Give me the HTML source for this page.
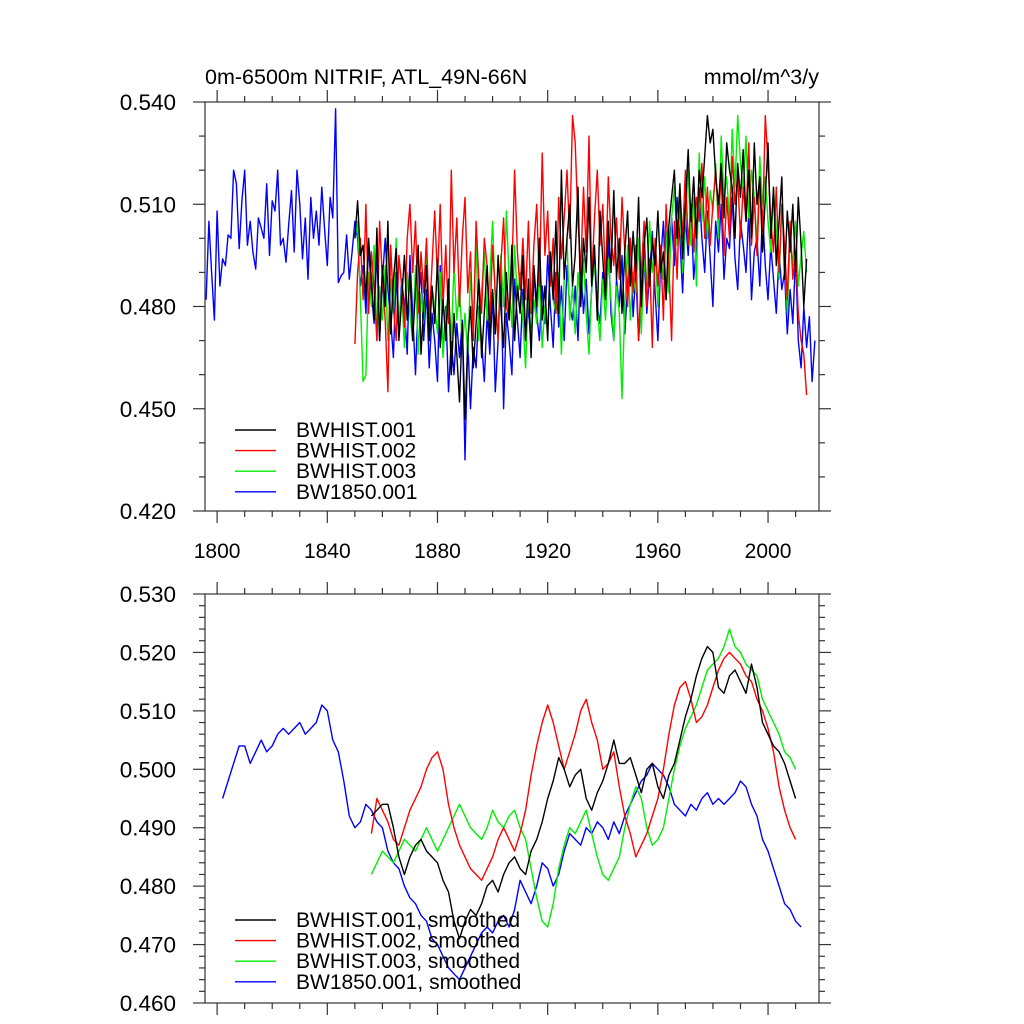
<!DOCTYPE html>
<html><head><meta charset="utf-8"><style>
body{margin:0;background:#fff;}
svg{display:block;font-family:"Liberation Sans",sans-serif;}
</style></head><body>
<svg id="chart" width="1024" height="1024" viewBox="0 0 1024 1024" xmlns="http://www.w3.org/2000/svg">
<rect width="1024" height="1024" fill="#fff"/>
<text x="205" y="84" font-size="21.5">0m-6500m NITRIF, ATL_49N-66N</text>
<text x="819" y="84" font-size="21.5" text-anchor="end">mmol/m^3/y</text>
</svg>
<script>
// values in units of 0.001 mmol/m^3/y
const xTicks = [1800,1840,1880,1920,1960,2000];
const topYTicks = [0.420,0.450,0.480,0.510,0.540];
const botYTicks = [0.460,0.470,0.480,0.490,0.500,0.510,0.520,0.530];
const topYTickLabels = ["0.420","0.450","0.480","0.510","0.540"];
const botYTickLabels = ["0.460","0.470","0.480","0.490","0.500","0.510","0.520","0.530"];

const blueStart = 1796;
const blueAnnual = [482,505,490,476,508,486,494,492,501,500,
520,516,497,511,520,498,505,496,491,506,
503,500,516,495,511,508,520,498,500,493,
504,514,496,520,510,494,506,488,512,500,
508,498,515,503,492,512,506,538,487,489,
490,501,488,496,505,500,486,492,478,498,
484,475,497,470,488,500,485,476,465,490,
472,488,480,466,495,478,460,482,490,470,
485,462,478,470,458,492,466,480,455,470,
460,475,465,476,435,470,450,468,462,480,
470,458,478,466,484,455,470,492,450,478,
470,460,488,476,465,485,470,480,468,490,
478,470,486,475,495,480,468,490,474,486,
470,492,480,476,486,470,494,478,488,472,
485,496,480,475,490,484,500,478,470,488,
480,495,472,486,500,477,490,470,483,496,
478,490,502,484,470,493,505,482,497,506,
492,512,500,484,506,495,510,488,498,515,
500,490,508,494,480,505,496,510,488,500,
497,512,494,485,505,498,490,508,482,496,
500,486,508,492,482,498,488,478,496,485,
490,472,485,475,495,470,462,480,468,477,
458,470];

const histStart = 1850;
const blackAnnual = [500,511,495,498,482,500,488,476,503,470,
492,480,505,472,488,497,470,482,495,476,
490,470,485,498,466,480,492,470,486,475,
494,468,482,470,488,460,478,466,452,475,
447,470,480,462,475,488,465,478,492,470,
485,472,495,480,468,490,476,498,470,486,
478,495,470,488,465,492,480,500,476,486,
470,496,482,505,478,520,488,500,510,486,
495,515,480,500,490,512,486,498,476,508,
494,482,505,490,514,488,500,478,496,508,
486,502,490,512,480,498,506,486,500,492,
508,490,496,482,504,512,520,500,516,494,
510,526,505,518,500,520,512,524,536,528,
532,518,510,522,506,528,520,515,500,522,
512,526,505,520,500,528,510,518,496,512,
528,500,515,492,505,518,488,508,496,510,
490,512,498,480,494];
const redAnnual = [469,490,500,482,510,478,496,485,470,505,
488,476,455,498,480,470,495,486,474,500,
510,490,505,478,496,484,500,476,492,508,
488,510,480,498,475,520,490,506,480,500,
512,484,496,470,505,488,478,500,492,476,
498,484,470,492,506,480,476,490,520,496,
485,500,482,505,478,498,510,486,525,495,
508,486,500,478,512,494,506,520,500,536,
528,505,490,515,496,530,488,506,520,498,
510,486,518,500,492,506,488,512,496,480,
500,484,498,470,490,505,480,494,468,500,
486,498,476,510,492,470,505,488,515,500,
520,498,510,496,512,505,522,500,515,498,
510,520,506,518,495,512,500,524,510,518,
500,515,505,528,498,512,495,518,502,536,
522,505,496,515,490,510,498,482,505,488,
496,478,470,466,454];
const greenAnnual = [500,505,482,458,460,490,480,498,470,486,
476,492,470,488,478,500,472,485,468,490,
478,470,492,466,484,476,498,470,486,480,
472,490,465,478,484,470,492,476,486,468,
478,466,490,474,500,470,484,496,476,488,
505,482,470,495,480,508,488,474,498,482,
490,476,462,486,470,482,475,490,468,480,
472,494,482,478,490,466,488,500,476,486,
472,490,480,494,478,466,486,492,480,470,
488,476,494,482,470,486,478,453,480,498,
476,490,484,500,472,494,486,505,490,498,
480,496,488,502,484,506,515,498,510,490,
505,520,498,512,486,525,505,518,500,514,
508,522,500,530,512,518,505,532,515,536,
522,514,530,506,520,512,498,524,510,518,
505,496,514,502,488,510,496,478,500,492,
505,486,495,502,490];

const smoothStep = 2;
const blueSmoothStart = 1802;
const blueSmooth = [495,498,501,504,504,501,503,505,503,504,506,507,506,507,508,506,507,508,511,510,505,503,498,492,490,491,494,493,491,490,486,484,483,480,478,477,475,474,471,470,468,466,465,464,466,468,470,472,473,472,474,475,473,476,481,479,477,480,484,483,480,482,486,489,488,487,490,489,491,490,488,491,489,492,494,496,498,499,501,500,499,497,494,493,492,494,493,495,496,494,495,494,495,496,498,497,494,492,488,486,483,480,477,476,474,473];
const histSmoothStart = 1856;
const blackSmooth = [492,493,494,494,490,485,482,485,487,488,486,485,484,481,479,474,471,474,476,475,477,480,481,479,482,484,485,483,482,486,488,491,495,498,502,500,497,499,500,495,493,496,498,501,505,501,501,502,499,496,500,501,497,495,499,501,505,509,512,516,519,521,520,514,513,516,517,515,513,518,514,508,506,504,503,501,498,495];
const redSmooth = [489,495,493,491,488,487,490,493,495,497,500,502,503,500,494,490,487,485,483,482,481,483,485,488,490,488,486,489,493,499,504,508,511,508,504,500,503,506,510,512,508,505,500,501,503,497,492,489,485,487,489,492,495,500,506,511,514,515,512,508,509,511,514,517,519,520,519,518,516,515,512,510,507,503,497,493,490,488];
const greenSmooth = [482,484,486,485,484,486,488,487,486,488,490,488,486,488,490,492,494,492,490,489,488,490,493,491,490,492,493,490,488,483,478,474,473,477,483,487,490,489,491,493,489,485,482,481,483,485,490,494,497,495,490,487,488,490,495,500,504,507,509,511,514,517,518,519,521,524,521,520,518,517,516,512,510,508,506,503,502,500];

const NS = "http://www.w3.org/2000/svg";
const svg = document.getElementById('chart');
const X0 = 205, X1 = 819, YR0 = 1795.6, YR1 = 2018.5;
function xs(yr){ return X0 + (yr - YR0) / (YR1 - YR0) * (X1 - X0); }
function mk(tag, attrs){ const e = document.createElementNS(NS, tag); for (const k in attrs) e.setAttribute(k, attrs[k]); svg.appendChild(e); return e; }

function panel(name, top, bot, vmin, vmax, yTicks, yLabels, minorStep, series, legend, legY){
  const ys = v => top + (vmax - v) / (vmax - vmin) * (bot - top);
  series.forEach(s => {
    let d = '';
    s.vals.forEach((v, i) => { d += (i ? 'L' : 'M') + xs(s.start + i * s.step).toFixed(1) + ',' + ys(v / 1000).toFixed(1); });
    const p = mk('path', {d: d, fill: 'none', stroke: s.color, 'stroke-width': 1.4, 'stroke-linejoin': 'round'});
    
    
  });
  const fr = mk('rect', {x: X0, y: top, width: X1 - X0, height: bot - top, fill: 'none', stroke: '#333', 'stroke-width': 1.2});
  
  
  for (let yr = 1800; yr <= 2010; yr += 10) {
    const major = xTicks.includes(yr);
    const L = major ? 12 : 6, x = xs(yr);
    const t1 = mk('line', {x1: x, x2: x, y1: bot, y2: bot + L, stroke: '#333', 'stroke-width': 1.2});
    
    
    const t2 = mk('line', {x1: x, x2: x, y1: top, y2: top - L, stroke: '#333', 'stroke-width': 1.2});
    
    
  }
  const n = Math.round((vmax - vmin) / minorStep);
  for (let i = 0; i <= n; i++) {
    const v = vmin + i * minorStep, y = ys(v);
    const major = yTicks.some(t => Math.abs(t - v) < 1e-6);
    const L = major ? 12 : 6;
    const a = mk('line', {x1: X0, x2: X0 - L, y1: y, y2: y, stroke: '#333', 'stroke-width': 1.2});
    
    
    const b = mk('line', {x1: X1, x2: X1 + L, y1: y, y2: y, stroke: '#333', 'stroke-width': 1.2});
    
    
  }
  yTicks.forEach((v, i) => {
    const t = mk('text', {x: 176, y: ys(v) + 8, 'font-size': 22.5, 'text-anchor': 'end', fill: '#000'});
    t.textContent = yLabels[i];
    
    
  });
  legend.forEach((lg, i) => {
    const y = legY + i * 20.6;
    const l = mk('line', {x1: 235, x2: 276, y1: y, y2: y, stroke: lg.color, 'stroke-width': 1.4});
    
    
    const t = mk('text', {x: 296, y: y + 7, 'font-size': 21, fill: '#000'});
    t.textContent = lg.label;
    
    
  });
}

panel('top-panel', 102, 511, 0.420, 0.540, topYTicks, topYTickLabels, 0.010, [
  {id: 'bw1850', color: '#0000ff', start: blueStart, step: 1, vals: blueAnnual},
  {id: 'bwhist003', color: '#00ee00', start: histStart, step: 1, vals: greenAnnual},
  {id: 'bwhist002', color: '#ff0000', start: histStart, step: 1, vals: redAnnual},
  {id: 'bwhist001', color: '#000000', start: histStart, step: 1, vals: blackAnnual}
], [
  {label: 'BWHIST.001', color: '#000'}, {label: 'BWHIST.002', color: '#f00'},
  {label: 'BWHIST.003', color: '#0e0'}, {label: 'BW1850.001', color: '#00f'}
], 430);

panel('bottom-panel', 594, 1003, 0.460, 0.530, botYTicks, botYTickLabels, 0.002, [
  {id: 'bw1850-smoothed', color: '#0000ff', start: blueSmoothStart, step: smoothStep, vals: blueSmooth},
  {id: 'bwhist003-smoothed', color: '#00ee00', start: histSmoothStart, step: smoothStep, vals: greenSmooth},
  {id: 'bwhist002-smoothed', color: '#ff0000', start: histSmoothStart, step: smoothStep, vals: redSmooth},
  {id: 'bwhist001-smoothed', color: '#000000', start: histSmoothStart, step: smoothStep, vals: blackSmooth}
], [
  {label: 'BWHIST.001, smoothed', color: '#000'}, {label: 'BWHIST.002, smoothed', color: '#f00'},
  {label: 'BWHIST.003, smoothed', color: '#0e0'}, {label: 'BW1850.001, smoothed', color: '#00f'}
], 920);

xTicks.forEach(yr => {
  const t = mk('text', {x: xs(yr), y: 558, 'font-size': 21, 'text-anchor': 'middle', fill: '#000'});
  t.textContent = String(yr);
  
  
});
</script>
</body></html>
